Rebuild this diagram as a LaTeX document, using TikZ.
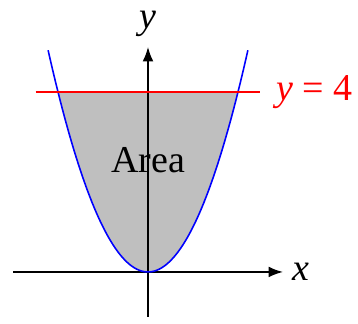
\documentclass[tikz,border=0pt]{standalone}
\usepackage{fontspec}
\setmainfont{Liberation Serif}
\newfontfamily\tmsfont{Liberation Serif}
\usetikzlibrary{arrows.meta}
\begin{document}
\begin{tikzpicture}[
  axis/.style={line width=1pt,-{Latex[length=3.2mm,width=2.4mm]}},
  lbl/.style={font=\tmsfont\fontsize{24}{28}\selectfont, inner sep=0pt}
]
\useasboundingbox (-3.289,-1.156) rectangle (4.667,6.044);
\fill[gray!50] plot[domain=-2:2,samples=80] (\x,{\x*\x}) -- cycle;
\draw[axis] (-3,0) -- (3,0) coordinate (xe);
\draw[axis] (0,-1) -- (0,5) coordinate (ye);
\draw[blue, line width=1pt] plot[domain=-2.22:2.22,samples=100] (\x,{\x*\x});
\draw[red, line width=1pt] (-2.5,4) coordinate (rl) -- (2.5,4) coordinate (rr);
\node[lbl, red, anchor=west] (ylab4) at (2.85,4) {\textit{y} = 4};
\node[lbl] (xl) at (3.4,0) {\textit{x}};
\node[lbl] (yl) at (0,5.52) {\textit{y}};
\node[lbl] (area) at (0,2.48) {Area};
\end{tikzpicture}
\end{document}
